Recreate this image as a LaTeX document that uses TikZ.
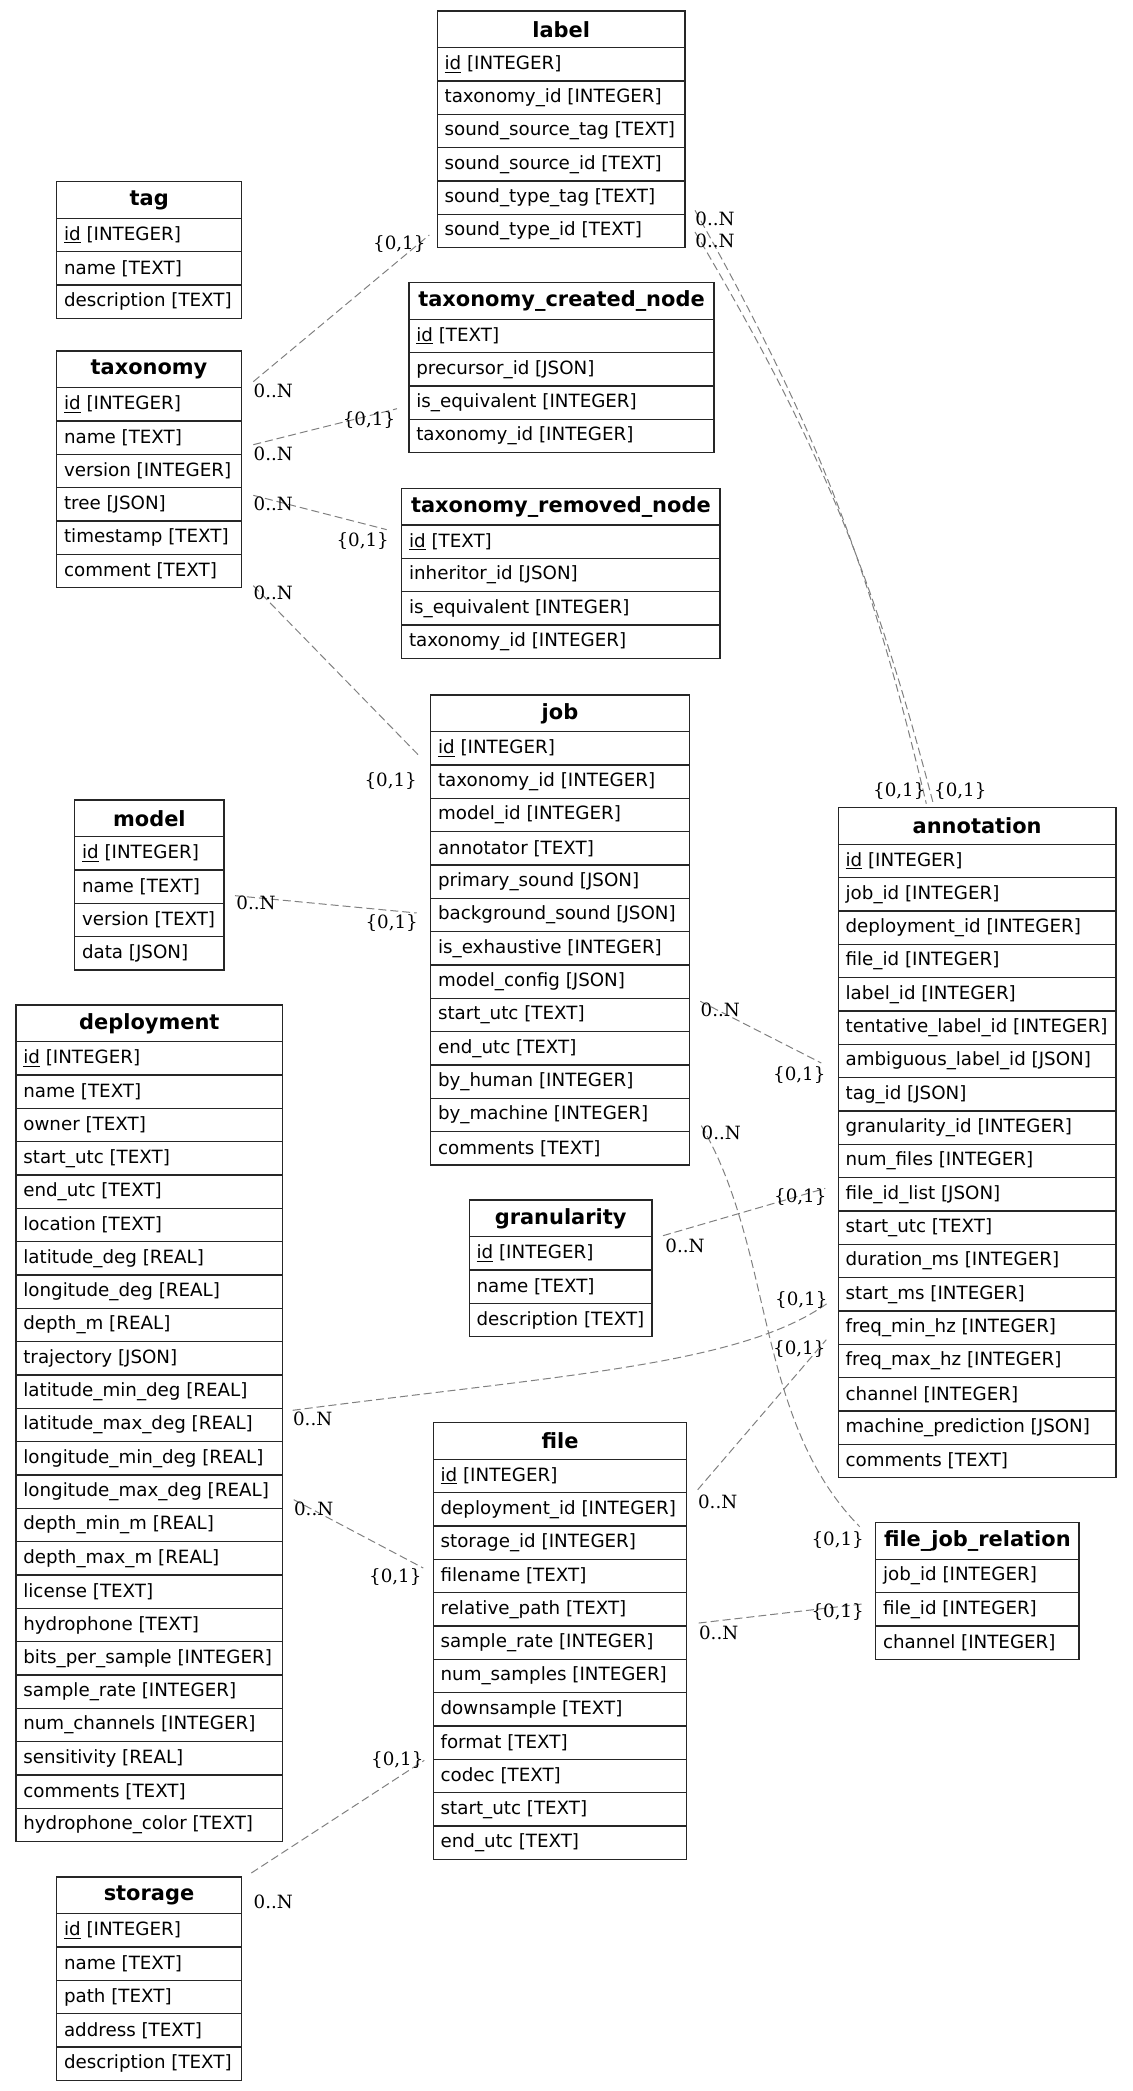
\documentclass[tikz,border=0pt]{standalone}
\usepackage{fontspec}
\setmainfont{DejaVu Sans}
\newfontfamily\cardfont{DejaVu Serif}
\usetikzlibrary{calc}

\tikzset{
  erhead/.style={draw=black!85, line width=1pt, anchor=north west, outer sep=0pt,
    inner xsep=0pt, inner ysep=0pt, minimum height=27.5pt,
    font=\fontsize{15.7}{18}\selectfont\bfseries},
  errow/.style={draw=black!85, line width=1pt, anchor=north west, outer sep=0pt,
    inner xsep=5.5pt, inner ysep=0pt, minimum height=25pt,
    font=\fontsize{13.7}{16}\selectfont},
  rel/.style={draw=gray, line width=0.75pt, dash pattern=on 6pt off 3pt},
  card/.style={font=\cardfont\fontsize{13.7}{16}\selectfont, inner sep=0pt}
}

% table: name, x, y, width, title, rows
\newcommand{\ertable}[6]{%
  \pgfmathsetmacro\erw{#4*0.75}%
  \pgfmathsetmacro\erx{#4*0.75-11}%
  \node[erhead, minimum width=\erw pt] (#1) at (#2,#3) {#5};
  \foreach \fld [count=\i] in {#6} {%
    \node[errow, minimum width=\erw pt] (#1-\i) at (#2,{#3+36.67+(\i-1)*33.33})
      {\makebox[\erx pt][l]{\fld}};
  }%
}

\begin{document}
\begin{tikzpicture}[x=0.75pt, y=-0.75pt]
    \useasboundingbox (0,0) rectangle (1132,2091);

    % 1. Tables, left column
    \ertable{tag}{56.7}{181.7}{185}{tag}{\underline{id} [INTEGER], name [TEXT], description [TEXT]}
    \ertable{taxonomy}{56.7}{351}{184.6}{taxonomy}{\underline{id} [INTEGER], name [TEXT], version [INTEGER], tree [JSON], timestamp [TEXT], comment [TEXT]}
    \ertable{model}{74.7}{800}{149.3}{model}{\underline{id} [INTEGER], name [TEXT], version [TEXT], data [JSON]}
    \ertable{deployment}{16}{1005}{266.7}{deployment}{\underline{id} [INTEGER], name [TEXT], owner [TEXT], start\_utc [TEXT], end\_utc [TEXT], location [TEXT], latitude\_deg [REAL], longitude\_deg [REAL], depth\_m [REAL], trajectory [JSON], latitude\_min\_deg [REAL], latitude\_max\_deg [REAL], longitude\_min\_deg [REAL], longitude\_max\_deg [REAL], depth\_min\_m [REAL], depth\_max\_m [REAL], license [TEXT], hydrophone [TEXT], bits\_per\_sample [INTEGER], sample\_rate [INTEGER], num\_channels [INTEGER], sensitivity [REAL], comments [TEXT], hydrophone\_color [TEXT]}
    \ertable{storage}{56.7}{1877}{184.6}{storage}{\underline{id} [INTEGER], name [TEXT], path [TEXT], address [TEXT], description [TEXT]}

    % 2. Tables, middle column
    \ertable{label}{437.3}{11}{247.7}{label}{\underline{id} [INTEGER], taxonomy\_id [INTEGER], sound\_source\_tag [TEXT], sound\_source\_id [TEXT], sound\_type\_tag [TEXT], sound\_type\_id [TEXT]}
    \ertable{created-node}{409}{282.7}{305}{taxonomy\_created\_node}{\underline{id} [TEXT], precursor\_id [JSON], is\_equivalent [INTEGER], taxonomy\_id [INTEGER]}
    \ertable{removed-node}{401.7}{488.3}{318.3}{taxonomy\_removed\_node}{\underline{id} [TEXT], inheritor\_id [JSON], is\_equivalent [INTEGER], taxonomy\_id [INTEGER]}
    \ertable{job}{430.7}{695}{258.6}{job}{\underline{id} [INTEGER], taxonomy\_id [INTEGER], model\_id [INTEGER], annotator [TEXT], primary\_sound [JSON], background\_sound [JSON], is\_exhaustive [INTEGER], model\_config [JSON], start\_utc [TEXT], end\_utc [TEXT], by\_human [INTEGER], by\_machine [INTEGER], comments [TEXT]}
    \ertable{granularity}{469.3}{1200}{182.7}{granularity}{\underline{id} [INTEGER], name [TEXT], description [TEXT]}
    \ertable{file}{433.3}{1422.7}{253.4}{file}{\underline{id} [INTEGER], deployment\_id [INTEGER], storage\_id [INTEGER], filename [TEXT], relative\_path [TEXT], sample\_rate [INTEGER], num\_samples [INTEGER], downsample [TEXT], format [TEXT], codec [TEXT], start\_utc [TEXT], end\_utc [TEXT]}

    % 3. Tables, right column
    \ertable{annotation}{838.3}{807.7}{277.7}{annotation}{\underline{id} [INTEGER], job\_id [INTEGER], deployment\_id [INTEGER], file\_id [INTEGER], label\_id [INTEGER], tentative\_label\_id [INTEGER], ambiguous\_label\_id [JSON], tag\_id [JSON], granularity\_id [INTEGER], num\_files [INTEGER], file\_id\_list [JSON], start\_utc [TEXT], duration\_ms [INTEGER], start\_ms [INTEGER], freq\_min\_hz [INTEGER], freq\_max\_hz [INTEGER], channel [INTEGER], machine\_prediction [JSON], comments [TEXT]}
    \ertable{file-job-relation}{875.7}{1522.7}{203.3}{file\_job\_relation}{job\_id [INTEGER], file\_id [INTEGER], channel [INTEGER]}

    % 4. Relations
    % taxonomy -> label
    \draw[rel] ($(taxonomy-1.north east)+(12,-6)$) coordinate (t1) -- ($(label-6.west)+(-8,4)$) coordinate (h1);
    \node[card] at ($(t1)+(20,9)$) {0..N};
    \node[card] at ($(h1)+(-30,9)$) {\{0,1\}};
    % taxonomy -> taxonomy_created_node
    \draw[rel] ($(taxonomy-2.east)+(12,7)$) coordinate (t2) -- ($(created-node-3.west)+(-12,6)$) coordinate (h2);
    \node[card] at ($(t2)+(20,9)$) {0..N};
    \node[card] at ($(h2)+(-28,11)$) {\{0,1\}};
    % taxonomy -> taxonomy_removed_node
    \draw[rel] ($(taxonomy-4.east)+(12,-9)$) coordinate (t3) -- ($(removed-node-1.west)+(-15,-12)$) coordinate (h3);
    \node[card] at ($(t3)+(20,9)$) {0..N};
    \node[card] at ($(h3)+(-24,11)$) {\{0,1\}};
    % taxonomy -> job
    \draw[rel] ($(taxonomy-6.south east)+(12,-2)$) coordinate (t4) -- ($(job-1.west)+(-10,9)$) coordinate (h4);
    \node[card] at ($(t4)+(20,7)$) {0..N};
    \node[card] at ($(h4)+(-30,24)$) {\{0,1\}};
    % model -> job
    \draw[rel] ($(model-2.east)+(11,9)$) coordinate (t5) -- ($(job-6.west)+(-14,-2)$) coordinate (h5);
    \node[card] at ($(t5)+(21,7)$) {0..N};
    \node[card] at ($(h5)+(-25,10)$) {\{0,1\}};
    % label -> annotation (twice)
    \draw[rel] ($(label-5.south east)+(10,-4)$) coordinate (t6) to[bend left=8] ($(annotation.north west)+(88,-4)$) coordinate (h6);
    \node[card] at ($(t6)+(20,9)$) {0..N};
    \node[card] at ($(h6)+(-27,-13)$) {\{0,1\}};
    \draw[rel] ($(label-6.east)+(10,1)$) coordinate (t7) to[bend left=8] ($(annotation.north west)+(95,-4)$) coordinate (h7);
    \node[card] at ($(t7)+(20,9)$) {0..N};
    \node[card] at ($(h7)+(27,-13)$) {\{0,1\}};
    % job -> annotation
    \draw[rel] ($(job-9.north east)+(11,3)$) coordinate (t8) -- ($(annotation-7.west)+(-17,2)$) coordinate (h8);
    \node[card] at ($(t8)+(20,9)$) {0..N};
    \node[card] at ($(h8)+(-22,12)$) {\{0,1\}};
    % job -> file_job_relation
    \draw[rel] ($(job-12.south east)+(12,-6)$) coordinate (t9) .. controls +(73,124) and +(-105,-107) .. ($(file-job-relation.north west)+(-16,4)$) coordinate (h9);
    \node[card] at ($(t9)+(20,7)$) {0..N};
    \node[card] at ($(h9)+(-22,13)$) {\{0,1\}};
    % granularity -> annotation
    \draw[rel] ($(granularity-1.north east)+(11,-1)$) coordinate (t10) -- ($(annotation-11.west)+(-13,-6)$) coordinate (h10);
    \node[card] at ($(t10)+(22,10)$) {0..N};
    \node[card] at ($(h10)+(-25,9)$) {\{0,1\}};
    % deployment -> annotation
    \draw[rel] ($(deployment-12.north east)+(10,2)$) coordinate (t11) .. controls +(267,-35) and +(-87,62) .. ($(annotation-14.west)+(-11,9)$) coordinate (h11);
    \node[card] at ($(t11)+(20,9)$) {0..N};
    \node[card] at ($(h11)+(-26,-3)$) {\{0,1\}};
    % deployment -> file
    \draw[rel] ($(deployment-14.east)+(11,8)$) coordinate (t12) -- ($(file-4.west)+(-10,-8)$) coordinate (h12);
    \node[card] at ($(t12)+(20,9)$) {0..N};
    \node[card] at ($(h12)+(-28,9)$) {\{0,1\}};
    % file -> annotation
    \draw[rel] ($(file-1.south east)+(11,-3)$) coordinate (t13) -- ($(annotation-15.west)+(-12,12)$) coordinate (h13);
    \node[card] at ($(t13)+(20,12)$) {0..N};
    \node[card] at ($(h13)+(-27,9)$) {\{0,1\}};
    % file -> file_job_relation
    \draw[rel] ($(file-5.south east)+(12,-3)$) coordinate (t14) -- ($(file-job-relation-1.south west)+(-11,11)$) coordinate (h14);
    \node[card] at ($(t14)+(20,10)$) {0..N};
    \node[card] at ($(h14)+(-27,8)$) {\{0,1\}};
    % storage -> file
    \draw[rel] ($(storage.north east)+(10,-4)$) coordinate (t15) -- ($(file-9.south west)+(-9,1)$) coordinate (h15);
    \node[card] at ($(t15)+(22,29)$) {0..N};
    \node[card] at ($(h15)+(-27,0)$) {\{0,1\}};
\end{tikzpicture}
\end{document}
